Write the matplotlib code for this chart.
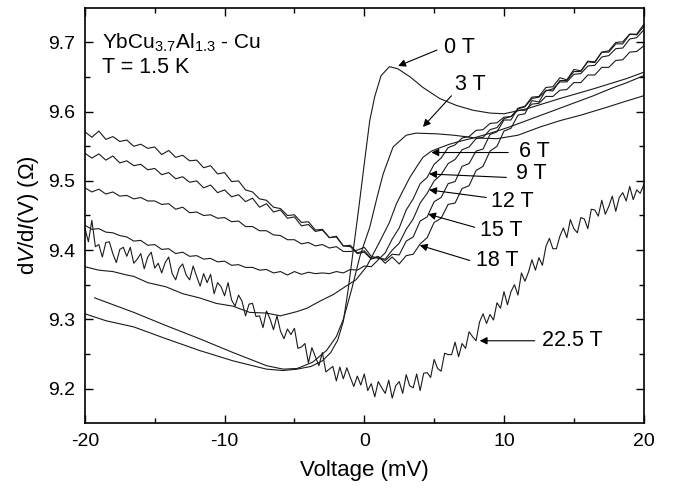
import matplotlib
matplotlib.use("Agg")
import matplotlib.pyplot as plt
import numpy as np

plt.rcParams['font.family'] = ['Liberation Sans', 'DejaVu Sans']
plt.rcParams['mathtext.fontset'] = 'custom'
plt.rcParams['mathtext.rm'] = 'Liberation Sans'
plt.rcParams['mathtext.it'] = 'Liberation Sans:italic'
plt.rcParams['axes.unicode_minus'] = False

# smooth curves: (voltage mV, dV/dI ohm)
v_0T = [-20, -18.5, -16.5, -14.2, -11.8, -9.4, -7.0, -5.8, -4.8, -3.8, -3.0, -2.4,
        -1.9, -1.5, -1.16, -0.8, -0.4, 0.0, 0.39, 0.75, 1.2, 1.8, 2.4, 3.3, 4.2,
        5.4, 6.6, 7.8, 9.0, 10.0, 11.6, 14.0, 16.4, 18.8, 20]
r_0T = [9.308, 9.298, 9.289, 9.272, 9.255, 9.240, 9.228, 9.226, 9.228, 9.232, 9.240, 9.252,
        9.270, 9.297, 9.342, 9.398, 9.460, 9.525, 9.587, 9.622, 9.652, 9.665, 9.662, 9.650, 9.635,
        9.619, 9.609, 9.602, 9.598, 9.597, 9.604, 9.619, 9.633, 9.648, 9.657]

v_3T = [-19.3, -16.5, -14.2, -11.8, -9.4, -7.0, -5.8, -4.8, -3.7, -2.7, -2.0, -1.5,
        -0.92, -0.3, 0.39, 0.9, 1.35, 2.06, 3.0, 3.7, 5.2, 6.4, 8.0, 9.5, 11.0, 12.6,
        14.0, 15.5, 17.3, 18.7, 20]
r_3T = [9.331, 9.310, 9.291, 9.272, 9.252, 9.233, 9.228, 9.229, 9.238, 9.255, 9.275, 9.300,
        9.342, 9.392, 9.433, 9.475, 9.510, 9.549, 9.566, 9.569, 9.568, 9.566, 9.562, 9.561, 9.566, 9.578,
        9.587, 9.595, 9.606, 9.615, 9.623]

v_6T = [-20, -19, -18, -17, -16.5, -15.5, -14.2, -13, -11.8, -10.6, -9.4, -8.2, -7, -6,
        -4.85, -4.1, -3.2, -2.2, -1.3, -0.6, 0.16, 1.1, 1.8, 2.3, 2.8, 3.26, 3.8, 4.2,
        4.8, 5.17, 6.1, 6.8, 8.0, 9.2, 10.4, 11.6, 12.8, 14.0, 15.2, 16.4, 17.6, 18.8, 20]
r_6T = [9.376, 9.371, 9.369, 9.364, 9.362, 9.353, 9.347, 9.337, 9.331, 9.323, 9.319, 9.310, 9.309, 9.305,
        9.311, 9.316, 9.326, 9.336, 9.348, 9.357, 9.376, 9.412, 9.440, 9.467, 9.487, 9.505, 9.522, 9.534,
        9.543, 9.546, 9.553, 9.557, 9.563, 9.570, 9.578, 9.587, 9.596, 9.605, 9.614, 9.623, 9.633, 9.642, 9.652]

# noisy curves sampled every 0.5 mV from -20 to 20 mV
v_half = np.arange(-20, 20.001, 0.5)
r_9T = [9.436, 9.430, 9.431, 9.426, 9.425, 9.421, 9.419, 9.413, 9.414, 9.407, 9.408, 9.401,
        9.402, 9.395, 9.397, 9.391, 9.392, 9.387, 9.388, 9.383, 9.384, 9.378, 9.379, 9.375,
        9.375, 9.371, 9.372, 9.367, 9.369, 9.364, 9.369, 9.365, 9.368, 9.366, 9.367, 9.366,
        9.369, 9.367, 9.372, 9.371, 9.377, 9.376, 9.386, 9.396, 9.416, 9.432, 9.458, 9.474,
        9.496, 9.505, 9.524, 9.533, 9.548, 9.552, 9.562, 9.564, 9.573, 9.574, 9.583, 9.584,
        9.592, 9.593, 9.602, 9.602, 9.611, 9.612, 9.622, 9.622, 9.631, 9.632, 9.642, 9.642,
        9.653, 9.653, 9.664, 9.664, 9.674, 9.675, 9.686, 9.687, 9.695]
r_12T = [9.490, 9.484, 9.488, 9.481, 9.484, 9.478, 9.479, 9.474, 9.476, 9.471, 9.471, 9.466,
         9.467, 9.459, 9.462, 9.454, 9.455, 9.450, 9.451, 9.446, 9.447, 9.441, 9.442, 9.434,
         9.434, 9.428, 9.428, 9.422, 9.421, 9.415, 9.415, 9.409, 9.411, 9.406, 9.408, 9.403,
         9.405, 9.398, 9.398, 9.400, 9.404, 9.391, 9.388, 9.387, 9.400, 9.410, 9.430, 9.445,
         9.468, 9.482, 9.500, 9.509, 9.525, 9.531, 9.545, 9.549, 9.561, 9.563, 9.574, 9.577,
         9.590, 9.593, 9.604, 9.607, 9.619, 9.621, 9.630, 9.633, 9.643, 9.643, 9.654, 9.655,
         9.666, 9.667, 9.679, 9.681, 9.691, 9.692, 9.705, 9.707, 9.718]
r_15T = [9.540, 9.533, 9.539, 9.530, 9.536, 9.526, 9.529, 9.522, 9.524, 9.516, 9.518, 9.509,
         9.512, 9.503, 9.506, 9.498, 9.500, 9.490, 9.494, 9.483, 9.487, 9.477, 9.480, 9.470,
         9.475, 9.462, 9.467, 9.455, 9.458, 9.446, 9.448, 9.435, 9.437, 9.427, 9.429, 9.418,
         9.420, 9.406, 9.405, 9.395, 9.397, 9.387, 9.390, 9.385, 9.394, 9.393, 9.413, 9.419,
         9.442, 9.448, 9.470, 9.476, 9.496, 9.499, 9.521, 9.525, 9.543, 9.546, 9.567, 9.571,
         9.588, 9.588, 9.605, 9.608, 9.621, 9.622, 9.635, 9.636, 9.649, 9.646, 9.661, 9.659,
         9.672, 9.671, 9.686, 9.686, 9.698, 9.698, 9.712, 9.711, 9.723]
r_18T = [9.571, 9.563, 9.572, 9.560, 9.564, 9.557, 9.559, 9.550, 9.553, 9.547, 9.549, 9.538,
         9.544, 9.534, 9.537, 9.529, 9.530, 9.519, 9.522, 9.510, 9.512, 9.499, 9.500, 9.487,
         9.484, 9.474, 9.472, 9.462, 9.460, 9.450, 9.451, 9.440, 9.441, 9.429, 9.430, 9.418,
         9.419, 9.406, 9.407, 9.396, 9.399, 9.388, 9.391, 9.381, 9.390, 9.380, 9.392, 9.394,
         9.409, 9.418, 9.440, 9.446, 9.466, 9.468, 9.489, 9.493, 9.515, 9.521, 9.543, 9.550,
         9.572, 9.576, 9.595, 9.597, 9.616, 9.614, 9.631, 9.630, 9.645, 9.645, 9.658, 9.658,
         9.673, 9.672, 9.686, 9.688, 9.700, 9.701, 9.712, 9.712, 9.726]

# 22.5 T curve sampled every 0.25 mV
v_quarter = np.arange(-20, 20.001, 0.25)
r_225T = [9.432, 9.412, 9.443, 9.405, 9.408, 9.390, 9.411, 9.412,
          9.395, 9.382, 9.401, 9.404, 9.391, 9.404, 9.381, 9.387,
          9.395, 9.373, 9.390, 9.397, 9.374, 9.381, 9.367, 9.382,
          9.390, 9.366, 9.357, 9.374, 9.380, 9.364, 9.357, 9.377,
          9.362, 9.348, 9.366, 9.353, 9.365, 9.337, 9.353, 9.347,
          9.334, 9.353, 9.328, 9.319, 9.335, 9.326, 9.305, 9.322,
          9.323, 9.304, 9.305, 9.288, 9.312, 9.301, 9.285, 9.305,
          9.283, 9.272, 9.286, 9.278, 9.287, 9.258, 9.260, 9.265,
          9.237, 9.259, 9.246, 9.233, 9.252, 9.224, 9.228, 9.232,
          9.211, 9.231, 9.214, 9.230, 9.216, 9.203, 9.218, 9.205,
          9.221, 9.197, 9.207, 9.188, 9.210, 9.201, 9.193, 9.212,
          9.186, 9.204, 9.210, 9.193, 9.220, 9.204, 9.201, 9.221,
          9.197, 9.222, 9.223, 9.216, 9.242, 9.229, 9.225, 9.251,
          9.249, 9.249, 9.267, 9.246, 9.265, 9.258, 9.282, 9.275,
          9.269, 9.296, 9.308, 9.294, 9.307, 9.299, 9.324, 9.316,
          9.340, 9.321, 9.340, 9.350, 9.335, 9.367, 9.355, 9.368,
          9.386, 9.371, 9.389, 9.378, 9.405, 9.417, 9.402, 9.402,
          9.420, 9.432, 9.418, 9.444, 9.431, 9.425, 9.447, 9.445,
          9.431, 9.459, 9.458, 9.449, 9.472, 9.452, 9.463, 9.478,
          9.456, 9.476, 9.483, 9.471, 9.492, 9.473, 9.487, 9.482,
          9.494]

fig = plt.figure(figsize=(6.79, 4.92), dpi=100)
ax = fig.add_axes([0.125, 0.14, 0.823, 0.844])

line_kw = dict(color='#1a1a1a', lw=0.8)
ax.plot(v_0T, r_0T, **line_kw)
ax.plot(v_3T, r_3T, **line_kw)
ax.plot(v_6T, r_6T, **line_kw)
ax.plot(v_half, r_9T, **line_kw)
ax.plot(v_half, r_12T, **line_kw)
ax.plot(v_half, r_15T, **line_kw)
ax.plot(v_half, r_18T, **line_kw)
ax.plot(v_quarter, r_225T, **line_kw)

ax.set_xlim(-20, 20)
ax.set_ylim(9.15, 9.75)
ax.set_xticks([-20, -10, 0, 10, 20])
ax.set_xticks([-15, -5, 5, 15], minor=True)
ax.set_yticks([9.2, 9.3, 9.4, 9.5, 9.6, 9.7])
ax.set_yticks([9.25, 9.35, 9.45, 9.55, 9.65], minor=True)
ax.tick_params(which='both', direction='in', top=True, right=True, width=1.0, labelsize=14)
ax.tick_params(which='major', length=6, pad=7)
ax.tick_params(which='minor', length=3.5)
for s in ax.spines.values():
    s.set_linewidth(1.2)

ax.set_xlabel('Voltage (mV)', fontsize=16, labelpad=7)
ax.set_ylabel(r'd$\it{V}$/d$\it{I}$(V) ($\Omega$)', fontsize=16, labelpad=5)

ax.text(-18.8, 9.691, r'YbCu$_{3.7}$Al$_{1.3}$ - Cu', fontsize=15, va='baseline')
ax.text(-18.8, 9.656, 'T = 1.5 K', fontsize=15.5, va='baseline')

arrow_kw = dict(arrowstyle='-|>', color='black', lw=0.8, mutation_scale=11,
                shrinkA=0, shrinkB=0)
labels = [
    ('0 T', (5.7, 9.693), (5.2, 9.689), (2.42, 9.666)),
    ('3 T', (6.5, 9.640), (6.24, 9.623), (4.2, 9.578)),
    ('6 T', (11.1, 9.542), (10.3, 9.541), (4.8, 9.541)),
    ('9 T', (10.85, 9.511), (10.17, 9.505), (4.64, 9.510)),
    ('12 T', (9.1, 9.470), (8.74, 9.476), (4.64, 9.487)),
    ('15 T', (8.26, 9.428), (7.9, 9.433), (4.57, 9.452)),
    ('18 T', (8.0, 9.385), (7.55, 9.385), (3.97, 9.407)),
    ('22.5 T', (12.7, 9.269), (12.2, 9.269), (8.26, 9.269)),
]
for txt, tpos, tail, tip in labels:
    ax.text(tpos[0], tpos[1], txt, fontsize=15.5, va='center', ha='left')
    ax.annotate('', xy=tip, xytext=tail, arrowprops=arrow_kw)

fig.savefig('out.png', dpi=100)
